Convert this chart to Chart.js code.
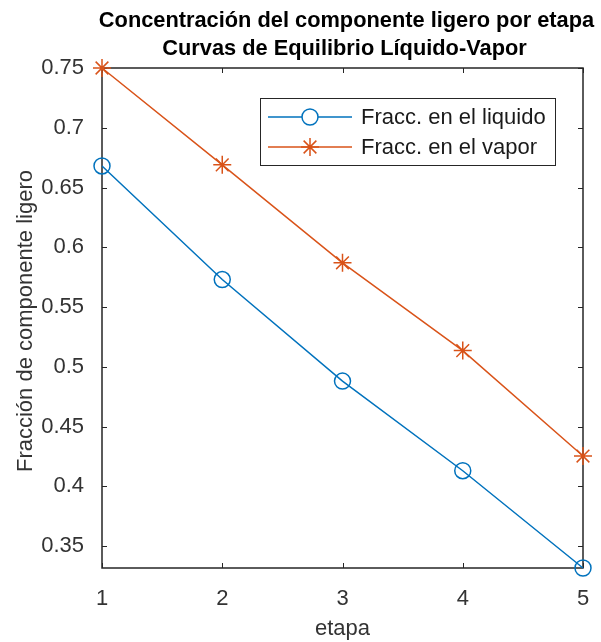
<!DOCTYPE html>
<html>
<head>
<meta charset="utf-8">
<script src="https://cdn.jsdelivr.net/npm/chart.js@4"></script>
<style>
  html, body { margin: 0; padding: 0; background: #ffffff; }
  #wrap { width: 601px; height: 642px; position: relative; }
</style>
</head>
<body>
<div id="wrap"><canvas id="c" width="601" height="642"></canvas></div>
<script>
// Stages and light-component fractions per stage
const etapas = [1, 2, 3, 4, 5];
const fraccLiquido = [0.668, 0.573, 0.488, 0.413, 0.3316];
const fraccVapor = [0.75, 0.669, 0.587, 0.5135, 0.4253];

// Axis ticks and labels
const xTicks = [1, 2, 3, 4, 5];
const yTicks = [0.35, 0.4, 0.45, 0.5, 0.55, 0.6, 0.65, 0.7, 0.75];
const yTickLabels = ['0.35', '0.4', '0.45', '0.5', '0.55', '0.6', '0.65', '0.7', '0.75'];

const tituloLineas = ['Concentración del componente ligero por etapa', 'Curvas de Equilibrio Líquido-Vapor'];
const etiquetaX = 'etapa';
const etiquetaY = 'Fracción de componente ligero';
const leyenda = ['Fracc. en el liquido', 'Fracc. en el vapor'];

const AZUL = '#0072BD';
const NARANJA = '#D95319';
const EJE = '#262626';
const TEXTO = '#333333';
const FUENTE = '"Liberation Sans", Arial, Helvetica, sans-serif';

const allY = fraccLiquido.concat(fraccVapor);
const yMin = Math.min(...allY);
const yMax = Math.max(...allY);

const toPoints = (ys) => ys.map((y, i) => ({ x: etapas[i], y }));

// Box, inward tick marks, titles and legend, drawn in MATLAB style
const decoracion = {
  id: 'decoracion',
  beforeDatasetsDraw(chart) {
    const { ctx, chartArea: a, scales } = chart;
    ctx.save();
    ctx.strokeStyle = EJE;
    ctx.lineWidth = 1.5;
    ctx.strokeRect(a.left, a.top, a.right - a.left, a.bottom - a.top);
    const tl = 5;
    ctx.lineWidth = 1;
    ctx.beginPath();
    xTicks.forEach(v => {
      const px = Math.round(scales.x.getPixelForValue(v)) + 0.5;
      ctx.moveTo(px, a.bottom); ctx.lineTo(px, a.bottom - tl);
      ctx.moveTo(px, a.top); ctx.lineTo(px, a.top + tl);
    });
    yTicks.forEach(v => {
      const py = Math.round(scales.y.getPixelForValue(v)) + 0.5;
      ctx.moveTo(a.left, py); ctx.lineTo(a.left + tl, py);
      ctx.moveTo(a.right, py); ctx.lineTo(a.right - tl, py);
    });
    ctx.stroke();
    ctx.restore();
  },
  afterDraw(chart) {
    const { ctx, chartArea: a } = chart;
    const cx = (a.left + a.right) / 2;
    ctx.save();
    // Title
    ctx.fillStyle = '#000000';
    ctx.font = 'bold 21.8px ' + FUENTE;
    ctx.textAlign = 'center';
    ctx.textBaseline = 'alphabetic';
    ctx.fillText(tituloLineas[0], cx + 4, 27);
    ctx.fillText(tituloLineas[1], cx + 2, 55);
    // Axis labels
    ctx.fillStyle = TEXTO;
    ctx.font = '22px ' + FUENTE;
    ctx.fillText(etiquetaX, cx, 635);
    ctx.save();
    ctx.translate(32, (a.top + a.bottom) / 2 + 3);
    ctx.rotate(-Math.PI / 2);
    ctx.fillText(etiquetaY, 0, 0);
    ctx.restore();
    // Legend
    const bx = 260, by = 98, bw = 295, bh = 67;
    ctx.fillStyle = '#ffffff';
    ctx.fillRect(bx, by, bw, bh);
    ctx.strokeStyle = EJE;
    ctx.lineWidth = 1;
    ctx.strokeRect(bx + 0.5, by + 0.5, bw, bh);
    const filas = [117, 147];
    chart.data.datasets.forEach((ds, i) => {
      const y = filas[i];
      ctx.strokeStyle = ds.borderColor;
      ctx.lineWidth = ds.borderWidth;
      ctx.beginPath();
      ctx.moveTo(268, y); ctx.lineTo(352, y);
      ctx.stroke();
      Chart.helpers.drawPoint(ctx, {
        pointStyle: ds.pointStyle,
        radius: ds.pointRadius,
        rotation: 0,
        borderWidth: ds.pointBorderWidth
      }, 310, y);
      ctx.fillStyle = '#1a1a1a';
      ctx.font = '22px ' + FUENTE;
      ctx.textAlign = 'left';
      ctx.textBaseline = 'middle';
      ctx.fillText(leyenda[i], 361, y + 1);
    });
    ctx.restore();
  }
};

new Chart(document.getElementById('c'), {
  type: 'line',
  data: {
    datasets: [
      {
        label: leyenda[0],
        data: toPoints(fraccLiquido),
        borderColor: AZUL,
        backgroundColor: 'rgba(0,0,0,0)',
        borderWidth: 1.5,
        pointStyle: 'circle',
        pointRadius: 8,
        pointBorderWidth: 1.5,
        pointBorderColor: AZUL,
        pointBackgroundColor: 'rgba(0,0,0,0)',
        clip: false,
        tension: 0
      },
      {
        label: leyenda[1],
        data: toPoints(fraccVapor),
        borderColor: NARANJA,
        backgroundColor: 'rgba(0,0,0,0)',
        borderWidth: 1.5,
        pointStyle: 'star',
        pointRadius: 9,
        pointBorderWidth: 1.5,
        pointBorderColor: NARANJA,
        pointBackgroundColor: NARANJA,
        clip: false,
        tension: 0
      }
    ]
  },
  options: {
    responsive: false,
    animation: false,
    devicePixelRatio: 1,
    layout: { padding: { top: 68, right: 18, left: 0, bottom: 0 } },
    plugins: {
      legend: { display: false },
      title: { display: false },
      tooltip: { enabled: false }
    },
    scales: {
      x: {
        type: 'linear',
        min: etapas[0],
        max: etapas[etapas.length - 1],
        afterFit(scale) { scale.height = 74; },
        afterBuildTicks(scale) { scale.ticks = xTicks.map(v => ({ value: v })); },
        grid: { display: false },
        border: { display: false },
        ticks: {
          padding: 10,
          color: TEXTO,
          font: { family: FUENTE, size: 22 },
          callback: (v) => String(v)
        }
      },
      y: {
        type: 'linear',
        min: yMin,
        max: yMax,
        afterFit(scale) { scale.width = 102; },
        afterBuildTicks(scale) { scale.ticks = yTicks.map(v => ({ value: v })); },
        grid: { display: false },
        border: { display: false },
        ticks: {
          padding: 10,
          color: TEXTO,
          font: { family: FUENTE, size: 22 },
          callback: (v) => {
            const i = yTicks.findIndex(t => Math.abs(t - v) < 1e-9);
            return i >= 0 ? yTickLabels[i] : '';
          }
        }
      }
    }
  },
  plugins: [decoracion]
});
</script>
</body>
</html>
